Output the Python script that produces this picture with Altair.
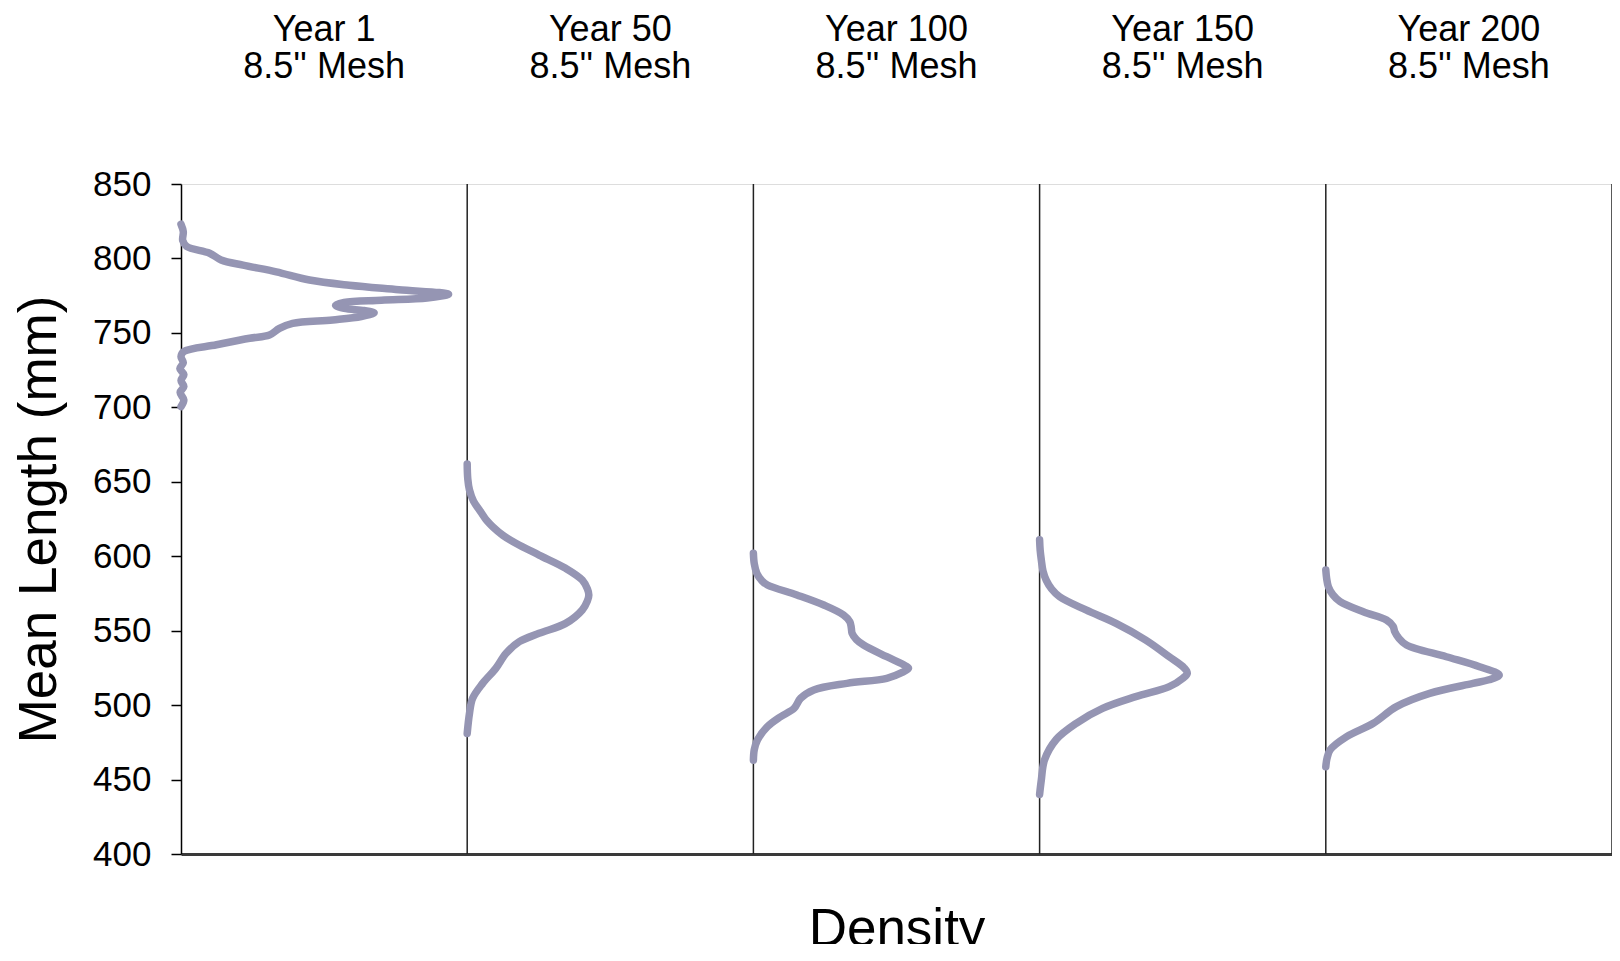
import altair as alt
import pandas as pd

panels = ["Year 1", "Year 50", "Year 100", "Year 150", "Year 200"]
subtitle = "8.5'' Mesh"

y1_len = [823, 818, 812, 808, 803.5, 799, 795.5, 791, 785.5, 782, 779, 776, 773.5, 772, 770.5,
          768.5, 766.5, 765, 763.5, 761, 758.7, 756.4, 753, 748.6, 746.4, 742, 737.5, 734, 730,
          726, 722, 718, 714, 710, 705, 700.5]
y1_den = [0.0, 0.008, 0.006, 0.02, 0.10, 0.14, 0.217, 0.333, 0.449, 0.588, 0.761, 0.935, 0.86,
          0.70, 0.57, 0.54, 0.57, 0.64, 0.675, 0.63, 0.53, 0.39, 0.344, 0.309, 0.24, 0.124, 0.01,
          0.0, 0.008, -0.004, 0.01, 0.0, 0.01, -0.003, 0.01, 0.0]

y50_len = [662, 652, 644.5, 637, 631, 624, 619.8, 614, 608.7, 600.8, 591.9, 584, 578, 574, 570,
           563.9, 554.9, 548.2, 542.6, 534.8, 524.7, 514.6, 504.6, 494.5, 481]
y50_den = [0.0, 0.002, 0.008, 0.022, 0.043, 0.068, 0.089, 0.125, 0.17, 0.251, 0.344, 0.402, 0.42,
           0.425, 0.42, 0.402, 0.344, 0.251, 0.182, 0.136, 0.10, 0.054, 0.019, 0.008, 0.0]

y100_len = [602, 595, 588.5, 583.5, 580.7, 574, 567.2, 560.5, 556, 552, 548.2, 544, 540.4, 532.5,
            526.5, 524.7, 522, 518, 514.6, 510.2, 504.6, 497.8, 492.2, 485.5, 476.6, 470, 463]
y100_den = [0.0, 0.003, 0.012, 0.03, 0.049, 0.152, 0.246, 0.315, 0.337, 0.342, 0.345, 0.36, 0.385,
            0.466, 0.53, 0.542, 0.52, 0.466, 0.327, 0.211, 0.165, 0.142, 0.095, 0.049, 0.014,
            0.003, 0.0]

y150_len = [611, 604, 597.5, 590, 584, 578, 572.8, 563.9, 554.9, 543.7, 532.5, 525, 521.4, 518,
            512.4, 505.7, 497.8, 487.8, 476.9, 463.1, 449.7, 440]
y150_den = [0.0, 0.002, 0.006, 0.012, 0.023, 0.042, 0.07, 0.162, 0.267, 0.371, 0.453, 0.505, 0.516,
            0.50, 0.453, 0.336, 0.22, 0.128, 0.058, 0.017, 0.006, 0.0]

y200_len = [590.7, 585, 579.5, 574, 569.5, 562.7, 557.2, 553, 549.3, 545, 540.4, 532.5, 525.8,
            520.2, 517, 514.6, 507.9, 499, 487.8, 478.8, 469.9, 464, 458.6]
y200_den = [0.0, 0.003, 0.009, 0.025, 0.05, 0.131, 0.212, 0.235, 0.241, 0.255, 0.282, 0.421, 0.537,
            0.606, 0.57, 0.514, 0.363, 0.247, 0.166, 0.073, 0.015, 0.004, 0.0]

y_ticks = [400, 450, 500, 550, 600, 650, 700, 750, 800, 850]

series = [(y1_len, y1_den), (y50_len, y50_den), (y100_len, y100_den),
          (y150_len, y150_den), (y200_len, y200_den)]

rows = []
for i, (lens, dens) in enumerate(series):
    for j, (l, d) in enumerate(zip(lens, dens)):
        rows.append({"panel": panels[i], "idx": i, "seq": j, "length": l, "density": d})
curves = pd.DataFrame(rows)

titles = pd.DataFrame({"panel": panels, "idx": list(range(len(panels))), "sub": [subtitle] * len(panels)})
bounds = pd.DataFrame({"b": list(range(1, len(panels) + 1))})

FONT = "Liberation Sans"
W, H = 1431, 670

x_scale = alt.Scale(domain=[0, len(panels)], nice=False, zero=False)
y_scale = alt.Scale(domain=[400, 850], nice=False, zero=False)

x_axis = alt.Axis(title="Density", labels=False, ticks=False, grid=False, domain=True,
                  domainColor="#3a3a3a", domainWidth=3, titleFont=FONT, titleFontSize=53,
                  titleFontWeight="normal", titleColor="black", titleX=W / 2, titleY=91,
                  titleBaseline="alphabetic", titleAlign="center")
y_axis = alt.Axis(title="Mean Length (mm)", values=y_ticks, grid=False, domainColor="black",
                  domainWidth=1.5, tickColor="black", tickWidth=1.5, tickSize=10,
                  labelFont=FONT, labelFontSize=35, labelColor="black", labelPadding=20,
                  titleFont=FONT, titleFontSize=53, titleFontWeight="normal", titleColor="black",
                  titleAngle=270, titleX=-126, titleY=H / 2, titleBaseline="alphabetic",
                  titleAlign="center")

lines = alt.Chart(curves).transform_calculate(
    xpos="datum.idx + datum.density"
).mark_line(color="#9595b3", strokeWidth=7.5, strokeCap="round", strokeJoin="round",
            interpolate="catmull-rom").encode(
    x=alt.X("xpos:Q", scale=x_scale, axis=x_axis),
    y=alt.Y("length:Q", scale=y_scale, axis=y_axis),
    detail="panel:N",
    order=alt.Order("seq:Q"),
)

rules = alt.Chart(bounds).mark_rule(color="#222222", strokeWidth=1.5).encode(
    x=alt.X("b:Q", scale=x_scale, axis=x_axis),
)

t1 = alt.Chart(titles).transform_calculate(xc="datum.idx + 0.5").mark_text(
    font=FONT, fontSize=36, color="black", align="center", baseline="alphabetic"
).encode(
    x=alt.X("xc:Q", scale=x_scale, axis=x_axis),
    y=alt.value(-143),
    text="panel:N",
)
t2 = alt.Chart(titles).transform_calculate(xc="datum.idx + 0.5").mark_text(
    font=FONT, fontSize=36, color="black", align="center", baseline="alphabetic"
).encode(
    x=alt.X("xc:Q", scale=x_scale, axis=x_axis),
    y=alt.value(-106),
    text="sub:N",
)

chart = alt.layer(rules, lines, t1, t2).properties(
    width=W, height=H,
    autosize=alt.AutoSizeParams(type="none"),
    padding={"left": 173, "top": 176, "right": 0, "bottom": 90},
).configure_view(stroke="#111111", strokeWidth=1.5).configure(background="white")

chart.save("out.html", embed_options={"renderer": "svg", "actions": False})
